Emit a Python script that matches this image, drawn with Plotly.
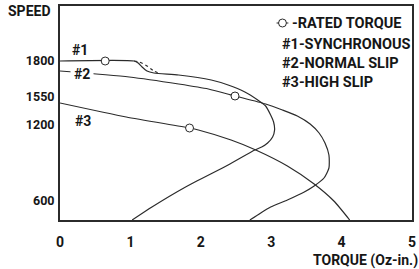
import plotly.graph_objects as go

# ---- data (torque in Oz-in., speed on the chart's schematic speed scale) ----
c1_torque = [0, 1.053, 1.11, 1.166, 1.236, 1.334, 1.685, 2.149, 2.388, 2.626, 2.809, 2.921,
             2.992, 3.034, 3.048, 3.02, 2.949, 2.865, 2.767, 2.388, 1.784, 1.306, 1.025]
c1_speed = [159, 159, 157, 153, 149, 147, 145, 140, 135, 128, 120, 114,
            105, 98, 90, 83, 77, 73, 70, 55, 33, 13, 0]
c1_dotted_torque = [1.053, 1.124, 1.236, 1.334, 1.419]
c1_dotted_speed = [159, 158, 154, 149, 146.5]

c2_torque = [0, 0.983, 1.685, 2.107, 2.486, 2.921, 3.16, 3.371, 3.553, 3.68, 3.764, 3.82,
             3.82, 3.75, 3.61, 3.47, 3.23, 2.992, 2.851, 2.697]
c2_speed = [149, 143, 136, 131, 124, 116, 110, 104, 96, 87, 77, 65,
            52, 42, 34, 28, 20, 13, 7, 0]

c3_torque = [0, 0.941, 1.84, 1.966, 2.43, 2.781, 3.23, 3.61, 3.89, 4.115]
c3_speed = [117, 103, 92, 90, 80, 70, 54, 36, 19, 0]

rated_torque = [0.642, 2.486, 1.84]
rated_speed = [159, 124, 92]

x_ticks = [0, 1, 2, 3, 4, 5]
y_tick_pos = [159, 123, 95.5, 19]
y_tick_text = ["1800", "1550", "1200", "600"]

curve_labels = ["#1", "#2", "#3"]
legend_lines = ["-RATED TORQUE", "#1-SYNCHRONOUS", "#2-NORMAL SLIP", "#3-HIGH SLIP"]

FONT = "Roboto, Liberation Sans, sans-serif"
INK = "#2b2b2b"
TXT = "#161616"

fig = go.Figure()
line_style = dict(color=INK, width=1.2)
fig.add_trace(go.Scatter(x=c1_torque, y=c1_speed, mode="lines", line=dict(line_style, shape="spline", smoothing=0.6)))
fig.add_trace(go.Scatter(x=c1_dotted_torque, y=c1_dotted_speed, mode="lines",
                         line=dict(color=INK, width=1.2, dash="dot", shape="spline")))
fig.add_trace(go.Scatter(x=c2_torque, y=c2_speed, mode="lines", line=dict(line_style, shape="spline", smoothing=0.6)))
fig.add_trace(go.Scatter(x=c3_torque, y=c3_speed, mode="lines", line=dict(line_style, shape="spline", smoothing=0.6)))
fig.add_trace(go.Scatter(x=rated_torque, y=rated_speed, mode="markers",
                         marker=dict(symbol="circle", size=8, color="white", line=dict(color=INK, width=1))))

ann = []
# curve labels
lab_pos = [(0.281, 170, None), (0.309, 146.5, "white"), (0.323, 99.5, None)]
for t, (x, y, bg) in zip(curve_labels, lab_pos):
    ann.append(dict(x=x, y=y, xref="x", yref="y", text=t, showarrow=False,
                    font=dict(family=FONT, size=14, color=TXT, weight=700),
                    bgcolor=bg, borderpad=3))
# legend texts
leg_y = [197, 175.5, 156.5, 138]
leg_x = [3.272, 3.118, 3.118, 3.118]
for t, x, y in zip(legend_lines, leg_x, leg_y):
    ann.append(dict(x=x, y=y, xref="x", yref="y", text=t, showarrow=False, xanchor="left",
                    font=dict(family=FONT, size=14.5, color=TXT, weight=700)))
ann.append(dict(x=-0.0197, y=0.9766, xref="paper", yref="paper", text="SPEED", showarrow=False,
                xanchor="right", yanchor="middle",
                font=dict(family=FONT, size=14, color=TXT, weight=700)))
ann.append(dict(x=1.022, y=-0.187, xref="paper", yref="paper", text="TORQUE (Oz-in.)", showarrow=False,
                xanchor="right", yanchor="middle",
                font=dict(family=FONT, size=14, color=TXT, weight=700)))

shapes = [
    dict(type="line", xref="x", yref="y", x0=3.076, x1=3.244, y0=197, y1=197, line=dict(color=INK, width=1)),
    dict(type="circle", xref="x", yref="y", x0=3.104, x1=3.216, y0=193, y1=201,
         line=dict(color=INK, width=1), fillcolor="white"),
]

fig.update_layout(
    width=419, height=269, margin=dict(l=60, r=3, t=6, b=49),
    paper_bgcolor="white", plot_bgcolor="white", showlegend=False,
    annotations=ann, shapes=shapes,
    xaxis=dict(range=[0, 5], tickvals=x_ticks, ticktext=[str(v) for v in x_ticks],
               showline=True, mirror=True, linecolor=INK, linewidth=2, showgrid=False, zeroline=False,
               ticks="outside", ticklen=8, tickcolor="rgba(0,0,0,0)",
               tickfont=dict(family=FONT, size=14, color=TXT, weight=700)),
    yaxis=dict(range=[0, 214], tickvals=y_tick_pos, ticktext=y_tick_text,
               showline=True, mirror=True, linecolor=INK, linewidth=2, showgrid=False, zeroline=False,
               ticks="outside", ticklen=1, tickcolor="rgba(0,0,0,0)",
               tickfont=dict(family=FONT, size=12.5, color=TXT, weight=700)),
)

fig.write_html("out.html", config={"displayModeBar": False},
               post_script="document.body.style.margin='0';")
